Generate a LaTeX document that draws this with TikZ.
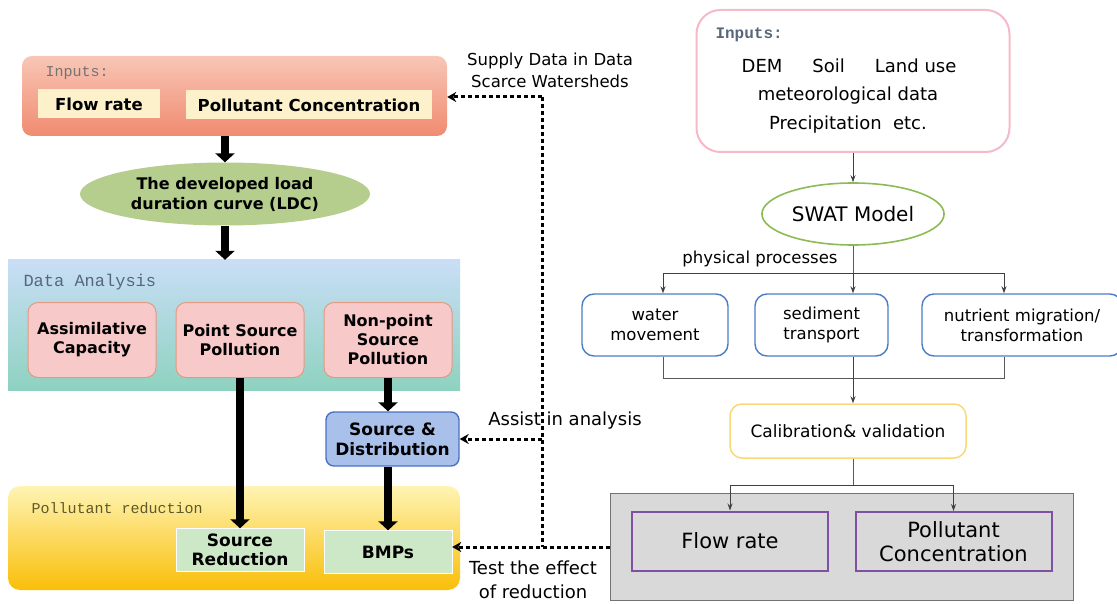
\documentclass[tikz,border=0pt]{standalone}
\usepackage{fontspec}
\setmainfont{DejaVu Sans}
\setmonofont{Liberation Mono}
\usetikzlibrary{positioning}
\usetikzlibrary{arrows.meta}
\usetikzlibrary{shapes.geometric}
\usetikzlibrary{backgrounds}

\definecolor{salmontop}{HTML}{F8C6B6}
\definecolor{salmonbot}{HTML}{F08B70}
\definecolor{inyellow}{HTML}{FDF1CB}
\definecolor{ldcgreen}{HTML}{B5CE8E}
\definecolor{anatop}{HTML}{C9DEF6}
\definecolor{anabot}{HTML}{8ED2C0}
\definecolor{pinkfill}{HTML}{F8C9C9}
\definecolor{pinkedge}{HTML}{E29A82}
\definecolor{distfill}{HTML}{A9C1EA}
\definecolor{distedge}{HTML}{4A72C2}
\definecolor{redtop}{HTML}{FFF4B4}
\definecolor{redbot}{HTML}{F9BE08}
\definecolor{redfill}{HTML}{CDE8C6}
\definecolor{pinkline}{HTML}{F5B9C8}
\definecolor{swatgreen}{HTML}{8CBA55}
\definecolor{procblue}{HTML}{4B7CC4}
\definecolor{calyellow}{HTML}{F9D975}
\definecolor{outgray}{HTML}{D9D9D9}
\definecolor{outpurple}{HTML}{8051A2}
\definecolor{labelslate}{HTML}{56677C}

\tikzset{
  panellabel/.style={anchor=west, font=\ttfamily\fontsize{15}{15}\selectfont},
  inbox/.style={fill=inyellow, minimum height=29pt, font=\bfseries\fontsize{16.5}{18}\selectfont},
  pinkbox/.style={draw=pinkedge, fill=pinkfill, line width=1pt, rounded corners=10pt,
    minimum width=128pt, minimum height=75pt, align=center, font=\bfseries\fontsize{16}{19}\selectfont},
  greenbox/.style={fill=redfill, draw=white, minimum width=128pt, minimum height=43pt,
    align=center, font=\bfseries\fontsize{17}{19}\selectfont},
  bigarrow/.style={line width=8pt, -{Triangle[width=19pt,length=9pt]}},
  dotline/.style={line width=3pt, dash pattern=on 4pt off 3pt, -{Stealth[length=9pt,width=10pt]}},
  note/.style={align=center, font=\fontsize{16.5}{22}\selectfont},
  procbox/.style={draw=procblue, line width=1.4pt, rounded corners=12pt, minimum height=62pt,
    align=center, font=\fontsize{16.5}{20}\selectfont},
  graylink/.style={draw=black!65, line width=1pt},
  grayarrow/.style={graylink, -{Stealth[length=7pt,width=5pt]}, black!75},
  outbox/.style={draw=outpurple, line width=2pt, fill=outgray, minimum width=196pt,
    minimum height=59pt, align=center, font=\fontsize{21}{24}\selectfont},
}

\begin{document}
\begin{tikzpicture}[x=1pt,y=-1pt]
\useasboundingbox (0,0) rectangle (1117,604);

% left column
\node[rounded corners=10pt, top color=salmontop, bottom color=salmonbot, minimum width=425pt, minimum height=80pt] (inL) at (234.5,96) {};
\node[panellabel, text=black!55] (inLlabel) at (42,73) {Inputs:};
\node[inbox, minimum width=122pt] (flowL) at (99,104) {Flow rate};
\node[inbox, minimum width=246pt] (concL) at (309,105) {Pollutant Concentration};

\node[ellipse, fill=ldcgreen, minimum width=290pt, minimum height=63pt, align=center,
  font=\bfseries\fontsize{16}{20}\selectfont] (ldc) at (225,194) {The developed load\\duration curve (LDC)};
\draw[bigarrow] (inL.south -| ldc) -- (ldc.north);

\node[top color=anatop, bottom color=anabot, minimum width=452pt, minimum height=130pt] (ana) at (234,325) {};
\node[panellabel, font=\ttfamily\fontsize{17}{17}\selectfont, text=labelslate] (analabel) at (20,282) {Data Analysis};
\draw[bigarrow] (ldc.south) -- (ana.north -| ldc);
\node[pinkbox] (assim) at (92,340) {Assimilative\\Capacity};
\node[pinkbox] (point) at (240,340) {Point Source\\Pollution};
\node[pinkbox] (nonpoint) at (388,340) {Non-point\\Source\\Pollution};

\node[draw=distedge, fill=distfill, line width=1.4pt, rounded corners=8pt, minimum width=133pt, minimum height=54pt,
  align=center, font=\bfseries\fontsize{17}{20}\selectfont] (dist) at (392.5,439) {Source \&\\Distribution};

\begin{scope}[on background layer]
\node[rounded corners=12pt, top color=redtop, bottom color=redbot, minimum width=452pt, minimum height=104pt] (red) at (234,538) {};
\end{scope}
\node[panellabel, text=black!45!olive] (redlabel) at (28,508) {Pollutant reduction};
\node[greenbox] (srcred) at (240,550) {Source\\Reduction};
\node[greenbox] (bmp) at (388,552) {BMPs};

\draw[bigarrow] (point.south) -- (srcred.north);
\draw[bigarrow] (nonpoint.south) -- (nonpoint.south |- dist.north);
\draw[bigarrow] (dist.south -| nonpoint) -- (bmp.north -| nonpoint);

% right column
\node[draw=pinkline, line width=2pt, rounded corners=24pt, minimum width=313pt, minimum height=142pt] (inR) at (853,81) {};
\node[anchor=west, font=\bfseries\ttfamily\fontsize{16}{16}\selectfont, text=labelslate] (inRlabel) at (712,35) {Inputs:};
\node[font=\fontsize{18}{20}\selectfont] (inRa) at (849,66) {DEM\hspace{30pt}Soil\hspace{30pt}Land use};
\node[font=\fontsize{18}{20}\selectfont] (inRb) at (848,96) {meteorological data};
\node[font=\fontsize{18}{20}\selectfont] (inRc) at (848,125) {Precipitation\ \ etc.};

\node[ellipse, draw=swatgreen, line width=1.6pt, minimum width=174pt, minimum height=62pt,
  font=\fontsize{20}{24}\selectfont] (swat) at (853,214) {SWAT Model};
\draw[grayarrow] (inR.south) -- (swat.north);

\node[procbox, minimum width=146pt] (water) at (655,325) {water\\movement};
\node[procbox, minimum width=133pt] (sed) at (821.5,325) {sediment\\transport};
\node[procbox, minimum width=200pt] (nut) at (1022,325) {nutrient migration/\\transformation};

\draw[graylink] (swat.south) -- ++(0,28) coordinate (sj);
\node[anchor=south, font=\fontsize{16.5}{18}\selectfont] (phys) at (760,270) {physical processes};
\draw[grayarrow] (sj) -| ([xshift=8pt]water.north);
\draw[grayarrow] (sj) -- (sj |- sed.north);
\draw[grayarrow] (sj) -| ([xshift=-18pt]nut.north);

\node[draw=calyellow, line width=1.5pt, rounded corners=12pt, minimum width=236pt, minimum height=54pt,
  font=\fontsize{17}{18}\selectfont] (calib) at (848,431) {Calibration\& validation};
\draw[graylink] ([xshift=8pt]water.south) |- ([yshift=-22pt]sed.south -| sj) -| ([xshift=-18pt]nut.south);
\draw[grayarrow] (sj |- sed.south) -- (sj |- calib.north);

\node[draw=black!55, fill=outgray, line width=1pt, minimum width=463pt, minimum height=107pt] (out) at (841.5,546.5) {};
\node[outbox] (flowR) at (730,541) {Flow rate};
\node[outbox] (concR) at (953.5,541.5) {Pollutant\\Concentration};
\draw[graylink] (sj |- calib.south) -- ++(0,27) coordinate (cj);
\draw[grayarrow] (cj) -| (flowR.north);
\draw[grayarrow] (cj) -| (concR.north);

% dotted feedback links
\coordinate (dtop) at (542,97);
\coordinate (dbot) at (542,547);
\draw[dotline, -] (dtop) -- (dbot);
\draw[dotline] (dtop) -- (dtop -| inL.east);
\draw[dotline] (dtop |- dist.east) -- (dist.east);
\draw[dotline] (out.west |- dbot) -- (dbot -| bmp.east);

\node[note] (supply) at (550,70) {Supply Data in Data\\Scarce Watersheds};
\node[note, font=\fontsize{18}{22}\selectfont] (assist) at (565,421) {Assist in analysis};
\node[note, font=\fontsize{18}{24}\selectfont] (test) at (533,580) {Test the effect\\of reduction};
\end{tikzpicture}
\end{document}
